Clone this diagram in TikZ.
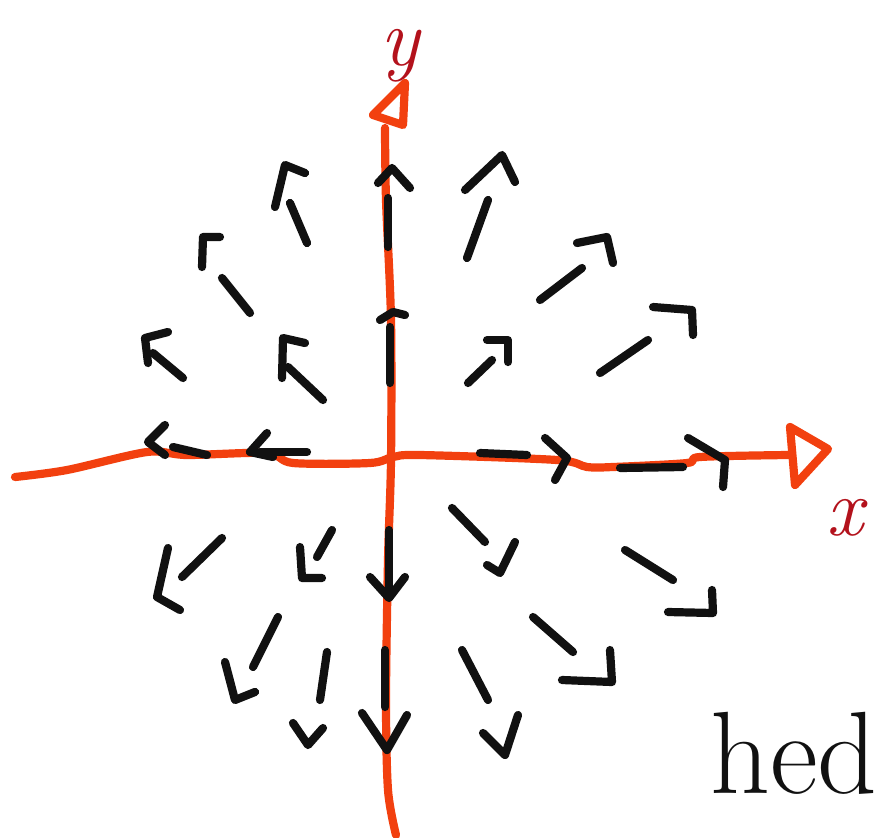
\documentclass[tikz,border=0pt]{standalone}
\usepackage{xcolor}
\definecolor{axisred}{HTML}{F2400F}
\definecolor{labelred}{HTML}{B3121C}
\definecolor{penink}{HTML}{111111}
% one hand drawn field arrow: shaft, then the open head
\newcommand{\fieldarrow}[5]{%
  \draw[vec] (#1) -- (#2);
  \draw[vec] (#3) -- (#4) -- (#5);}

\begin{document}
\begin{tikzpicture}[
  x=0.03cm,
  y=-0.03cm,
  vec/.style={penink, line width=7pt, line cap=round, line join=round},
  axis/.style={axisred, line width=7pt, line cap=round, line join=round},
  axislabel/.style={labelred, inner sep=0pt, font=\fontsize{70}{70}\selectfont\itshape},
  note/.style={penink, inner sep=0pt, font=\fontsize{100}{100}\selectfont}
]
  \useasboundingbox (0,0) rectangle (878,837);

  % ================= axes ===============================================
  \draw[axis] plot[smooth] coordinates {(15,477) (67,470) (147,452) (187,455)
    (267,453) (293,463) (370,463) (393,457) (420,455) (557,460) (587,467)
    (613,467) (687,463) (700,457) (788,455)};
  \draw[axis] (790,427) -- (828,449) -- (795,485) -- cycle;

  \draw[axis] plot[smooth] coordinates {(385,128) (386,200) (391,320)
    (391,460) (388,560) (386,700) (388,790) (396,835)};
  \draw[axis] (405,83) -- (373,115) -- (403,125) -- cycle;

  \node[axislabel] (ylabel) at (400,56) {y};
  \node[axislabel] (xlabel) at (845,518) {x};

  % ================= the field, pointing outwards =======================
  % upper left
  \fieldarrow{307,243}{290,203}{275,207}{285,165}{305,173}
  \fieldarrow{250,313}{222,278}{202,267}{203,237}{220,237}
  \fieldarrow{183,378}{153,353}{168,332}{145,338}{148,363}
  \fieldarrow{323,400}{288,367}{305,343}{283,338}{282,378}
  \fieldarrow{307,452}{260,452}{267,433}{250,452}{273,457}
  \fieldarrow{207,455}{173,447}{165,425}{148,442}{165,455}
  % on the y axis
  \fieldarrow{388,247}{388,198}{378,183}{392,168}{410,188}
  \fieldarrow{390,383}{390,327}{380,320}{393,312}{405,315}
  \fieldarrow{389,530}{389,590}{370,577}{389,598}{405,577}
  \fieldarrow{385,650}{385,707}{362,713}{387,750}{407,715}
  % upper right
  \fieldarrow{467,258}{488,200}{465,190}{502,155}{515,182}
  \fieldarrow{540,300}{582,268}{577,243}{607,237}{613,263}
  \fieldarrow{600,373}{648,340}{653,307}{692,310}{693,335}
  \fieldarrow{468,383}{492,360}{487,340}{508,340}{508,362}
  \fieldarrow{480,453}{527,455}{545,438}{567,458}{555,480}
  \fieldarrow{620,468}{683,467}{688,438}{725,460}{723,487}
  % lower right
  \fieldarrow{452,508}{485,542}{515,542}{500,573}{487,565}
  \fieldarrow{625,550}{673,580}{712,590}{713,613}{668,612}
  \fieldarrow{533,617}{573,652}{610,650}{612,682}{562,680}
  \fieldarrow{462,650}{488,700}{518,715}{505,755}{483,733}
  % lower left
  \fieldarrow{222,538}{182,577}{168,548}{157,597}{180,610}
  \fieldarrow{332,530}{317,557}{300,547}{302,578}{322,578}
  \fieldarrow{278,617}{253,667}{225,662}{235,700}{255,692}
  \fieldarrow{327,652}{320,700}{293,723}{308,745}{323,728}

  \node[note, anchor=base east] (caption) at (878,793) {hed};
\end{tikzpicture}
\end{document}
